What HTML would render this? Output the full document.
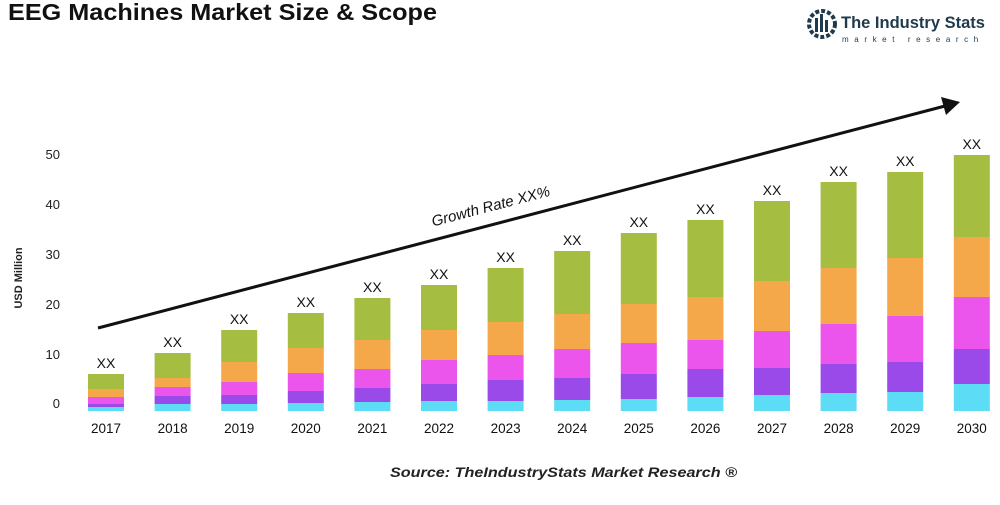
<!DOCTYPE html>
<html><head><meta charset="utf-8"><style>
body{margin:0;background:#fff;width:1000px;height:500px;overflow:hidden;font-family:"Liberation Sans",Arial,sans-serif}
</style></head><body>
<svg width="1000" height="500" xmlns="http://www.w3.org/2000/svg" font-family="Liberation Sans, Arial, sans-serif">
<text x="8" y="20" font-size="23" font-weight="bold" fill="#111" textLength="429" lengthAdjust="spacingAndGlyphs">EEG Machines Market Size &amp; Scope</text>
<g>
<circle cx="822" cy="24" r="13" fill="none" stroke="#1f3a4d" stroke-width="4" stroke-dasharray="4 2"/>
<rect x="815" y="18" width="3" height="14" fill="#1f3a4d"/><rect x="820" y="14" width="3" height="18" fill="#1f3a4d"/><rect x="825" y="20" width="3" height="12" fill="#1f3a4d"/>
<text x="841" y="28" font-size="16.5" font-weight="bold" fill="#1f3a4d">The Industry Stats</text>
<text x="842" y="42" font-size="8" fill="#1f3a4d" letter-spacing="5.6">market research</text>
</g>
<text transform="translate(22,278) rotate(-90)" font-size="11" font-weight="bold" fill="#222" text-anchor="middle">USD Million</text>
<g font-size="13" fill="#222" text-anchor="end">
<text x="60" y="159">50</text><text x="60" y="209">40</text><text x="60" y="259">30</text><text x="60" y="309">20</text><text x="60" y="359">10</text><text x="60" y="408">0</text>
</g>
<g id="bars"></g>
<line x1="98" y1="328" x2="945" y2="106" stroke="#111" stroke-width="3"/>
<polygon points="960,102 941,97 946,115" fill="#111"/>
<text transform="translate(492,211) rotate(-14.7)" font-size="15" font-style="italic" fill="#111" text-anchor="middle">Growth Rate XX%</text>
<text x="390" y="477" font-size="14" font-style="italic" font-weight="bold" fill="#222" textLength="347" lengthAdjust="spacingAndGlyphs">Source: TheIndustryStats Market Research ®</text>
</svg>
<script>
var d=[[374,389,397,404,407],[353,378,387,396,404],[330,362,382,395,404],[313,348,373,391,403],[298,340,369,388,402],[285,330,360,384,401],[268,322,355,380,401],[251,314,349,378,400],[233,304,343,374,399],[220,297,340,369,397],[201,281,331,368,395],[182,268,324,364,393],[172,258,316,362,392],[155,237,297,349,384]];
var c=["#a5bd40","#f4a84a","#eb55eb","#9a4ae8","#5ddcf5"];
var s="";
d.forEach(function(b,i){var cx=106+i*66.6,x=cx-18;
for(var k=0;k<5;k++){var y=b[k],y2=k<4?b[k+1]:411;s+='<rect x="'+x+'" y="'+y+'" width="36" height="'+(y2-y)+'" fill="'+c[k]+'"/>';}
s+='<text x="'+cx+'" y="'+(b[0]-6)+'" font-size="14" text-anchor="middle" fill="#111">XX</text>';
s+='<text x="'+cx+'" y="433" font-size="13.5" text-anchor="middle" fill="#111">'+(2017+i)+'</text>';});
document.getElementById("bars").innerHTML=s;
</script>
</body></html>
